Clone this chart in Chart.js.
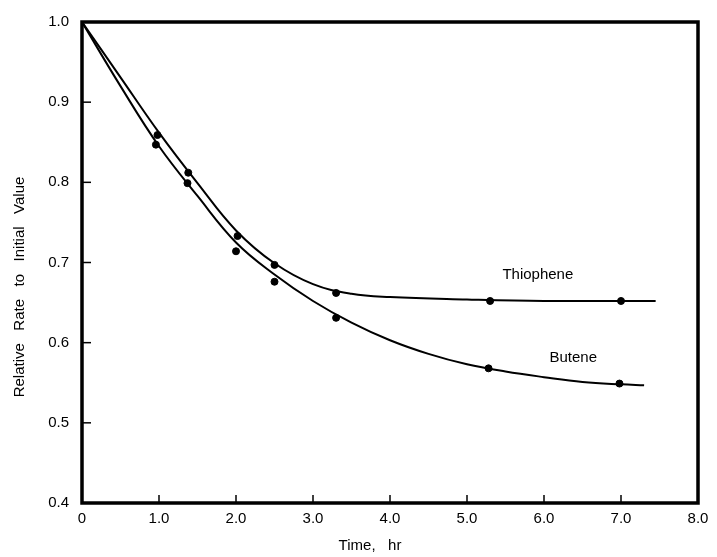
<!DOCTYPE html>
<html>
<head>
<meta charset="utf-8">
<title>Relative rate vs time</title>
<script src="https://cdn.jsdelivr.net/npm/chart.js@4.4.1/dist/chart.umd.min.js"></script>
<style>
  html, body { margin: 0; padding: 0; background: #fff; }
  #wrap { width: 717px; height: 557px; }
</style>
</head>
<body>
<div id="wrap"><canvas id="rateChart"></canvas></div>
<script>
// measured points
const thiopheneTime = [0.98, 1.38, 2.02, 2.5, 3.3, 5.3, 7.0];
const thiopheneRate = [0.859, 0.812, 0.733, 0.697, 0.662, 0.652, 0.652];
const buteneTime = [0.96, 1.37, 2.0, 2.5, 3.3, 5.28, 6.98];
const buteneRate = [0.847, 0.799, 0.714, 0.676, 0.631, 0.568, 0.549];

// hand-drawn fit curves
const thiopheneCurveTime = [0, 0.5, 1.0, 1.5, 2.0, 2.5, 3.0, 3.5, 4.0, 5.0, 6.0, 7.0, 7.45];
const thiopheneCurveRate = [1.0, 0.931, 0.862, 0.799, 0.740, 0.699, 0.673, 0.661, 0.657, 0.654, 0.652, 0.652, 0.652];
const buteneCurveTime = [0, 0.5, 1.0, 1.5, 2.0, 2.5, 3.0, 3.5, 4.0, 4.5, 5.0, 5.5, 6.0, 6.5, 7.0, 7.3];
const buteneCurveRate = [1.0, 0.920, 0.845, 0.783, 0.725, 0.685, 0.652, 0.625, 0.603, 0.586, 0.573, 0.564, 0.557, 0.551, 0.548, 0.547];

const xTicks = [0, 1, 2, 3, 4, 5, 6, 7, 8];
const yTicks = [0.4, 0.5, 0.6, 0.7, 0.8, 0.9, 1.0];

const FONT = "'Liberation Sans', Arial, sans-serif";

function pairs(xs, ys) {
    return xs.map((x, i) => ({ x: x, y: ys[i] }));
}

function curveSet(xs, ys) {
    return {
        data: pairs(xs, ys),
        showLine: true,
        borderColor: '#000',
        borderWidth: 2,
        pointRadius: 0,
        tension: 0.4,
        fill: false
    };
}

function pointSet(xs, ys) {
    return {
        data: pairs(xs, ys),
        showLine: false,
        backgroundColor: '#000',
        borderColor: '#000',
        pointRadius: 3.5
    };
}

// frame, inward ticks and free text
const framePlugin = {
    id: 'frame',
    afterDraw(chart) {
        const ctx = chart.ctx;
        const a = chart.chartArea;
        const xs = chart.scales.x;
        const ys = chart.scales.y;
        ctx.save();
        ctx.strokeStyle = '#000';
        ctx.lineWidth = 3.5;
        ctx.strokeRect(a.left, a.top, a.right - a.left, a.bottom - a.top);

        ctx.lineWidth = 1.5;
        xTicks.slice(1, -1).forEach(v => {
            const px = xs.getPixelForValue(v);
            ctx.beginPath();
            ctx.moveTo(px, a.bottom);
            ctx.lineTo(px, a.bottom - 8);
            ctx.stroke();
        });
        yTicks.slice(1, -1).forEach(v => {
            const py = ys.getPixelForValue(v);
            ctx.beginPath();
            ctx.moveTo(a.left, py);
            ctx.lineTo(a.left + 9, py);
            ctx.stroke();
        });

        ctx.fillStyle = '#000';
        ctx.textAlign = 'center';
        ctx.textBaseline = 'middle';
        ctx.font = '15px ' + FONT;
        ctx.fillText('Thiophene', xs.getPixelForValue(5.92), ys.getPixelForValue(0.684));
        ctx.fillText('Butene', xs.getPixelForValue(6.38), ys.getPixelForValue(0.581));

        ctx.fillText('Time,   hr', 370, 546);
        ctx.translate(20, 287);
        ctx.rotate(-Math.PI / 2);
        ctx.fillText('Relative   Rate   to   Initial   Value', 0, 0);
        ctx.restore();
    }
};

const chart = new Chart(document.getElementById('rateChart'), {
    type: 'scatter',
    data: {
        datasets: [
            curveSet(thiopheneCurveTime, thiopheneCurveRate),
            curveSet(buteneCurveTime, buteneCurveRate),
            pointSet(thiopheneTime, thiopheneRate),
            pointSet(buteneTime, buteneRate)
        ]
    },
    options: {
        responsive: true,
        maintainAspectRatio: false,
        animation: false,
        layout: { padding: { top: 22, right: 19, left: 0, bottom: 0 } },
        plugins: {
            legend: { display: false },
            tooltip: { enabled: false }
        },
        scales: {
            x: {
                type: 'linear',
                min: 0,
                max: 8,
                afterBuildTicks(scale) {
                    scale.ticks = xTicks.map(v => ({ value: v }));
                },
                afterFit(scale) { scale.height = 54; },
                grid: { display: false, drawTicks: false },
                border: { display: false },
                ticks: {
                    color: '#000',
                    padding: 7,
                    font: { family: FONT, size: 15 },
                    callback: v => v === 0 ? '0' : v.toFixed(1)
                }
            },
            y: {
                type: 'linear',
                min: 0.4,
                max: 1.0,
                afterBuildTicks(scale) {
                    scale.ticks = yTicks.map(v => ({ value: v }));
                },
                afterFit(scale) { scale.width = 82; },
                grid: { display: false, drawTicks: false },
                border: { display: false },
                ticks: {
                    color: '#000',
                    padding: 13,
                    font: { family: FONT, size: 15 },
                    callback: v => v.toFixed(1)
                }
            }
        }
    },
    plugins: [framePlugin]
});
</script>
</body>
</html>
